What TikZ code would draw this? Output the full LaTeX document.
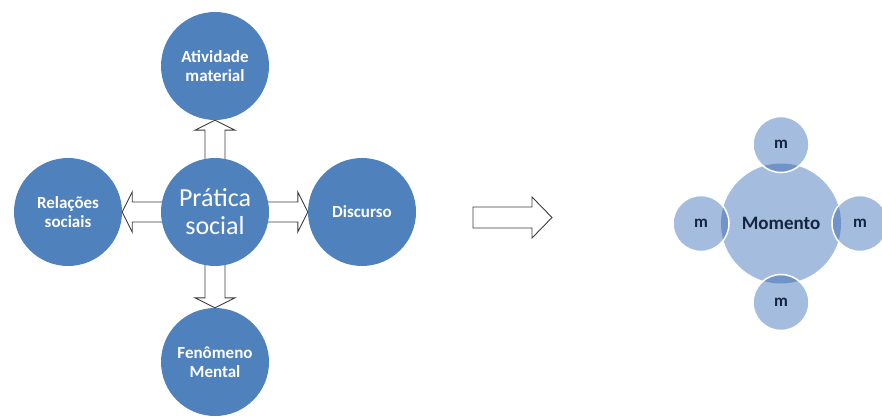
\documentclass[tikz,border=0pt]{standalone}
\usepackage{fontspec}
\setmainfont{Carlito}
\usetikzlibrary{backgrounds,calc}

\definecolor{mainblue}{RGB}{79,129,189}
\definecolor{lightblue}{RGB}{164,189,222}
\definecolor{lensblue}{RGB}{112,148,198}
\definecolor{navytext}{RGB}{22,36,66}
\definecolor{arrowline}{RGB}{60,60,60}

\tikzset{
  bigcirc/.style={circle,fill=mainblue,text=white,minimum size=108pt,inner sep=0pt,
    align=center,font=\fontsize{17}{19}\selectfont\bfseries},
  pratcirc/.style={bigcirc,font=\fontsize{26}{28}\selectfont},
  momcirc/.style={circle,fill=lightblue,text=navytext,minimum size=120pt,inner sep=0pt,
    font=\fontsize{19}{20}\selectfont\bfseries},
  mcirc/.style={circle,fill=lightblue,text=navytext,minimum size=56pt,inner sep=0pt,
    font=\fontsize{17}{20}\selectfont\bfseries},
  blkarrow/.style={draw=arrowline,fill=white,line width=0.9pt,line join=miter},
}

% block arrow: tip at #1, pointing at angle #2
\newcommand{\blkarrow}[2]{%
  \draw[blkarrow,shift={(#1)},rotate=#2] (0,0) -- (-10,20) -- (-10,10) -- (-60,10)
    -- (-60,-10) -- (-10,-10) -- (-10,-20) -- cycle;}

\begin{document}
\begin{tikzpicture}[x=1pt,y=1pt]
  \useasboundingbox (0,0) rectangle (882,418);

  % pratica social
  \node[pratcirc] (prat) at (215,206) {Prática\\social};
  \node[bigcirc] (ativ) at (215,352) {Atividade\\material};
  \node[bigcirc] (rel) at (68,206) {Relações\\sociais};
  \node[bigcirc] (disc) at (362,206) {Discurso};
  \node[bigcirc] (fen) at (215,56) {Fenômeno\\Mental};

  \begin{scope}[on background layer]
    \blkarrow{ativ.south}{90}
    \blkarrow{disc.west}{0}
    \blkarrow{rel.east}{180}
    \blkarrow{fen.north}{270}
  \end{scope}

  % passagem
  \draw[blkarrow] (473,190) -- (532,190) -- (532,180) -- (552,200.5) -- (532,221)
    -- (532,211) -- (473,211) -- cycle;

  % momento
  \node[momcirc] (mom) at (781,194.5) {Momento};
  \node[mcirc] (mtop) at ($(mom)+(0,79)$) {m};
  \node[mcirc] (mbot) at ($(mom)+(0,-79)$) {m};
  \node[mcirc] (mleft) at ($(mom)+(-80,0)$) {m};
  \node[mcirc] (mright) at ($(mom)+(79,0)$) {m};
  \begin{scope}
    \clip (mom) circle (60);
    \foreach \m in {mtop,mbot,mleft,mright}
      \fill[lensblue] (\m) circle (28);
  \end{scope}
  \foreach \m in {mtop,mbot,mleft,mright}
    \draw[white,line width=1.5pt] (\m) circle (28);
\end{tikzpicture}
\end{document}
